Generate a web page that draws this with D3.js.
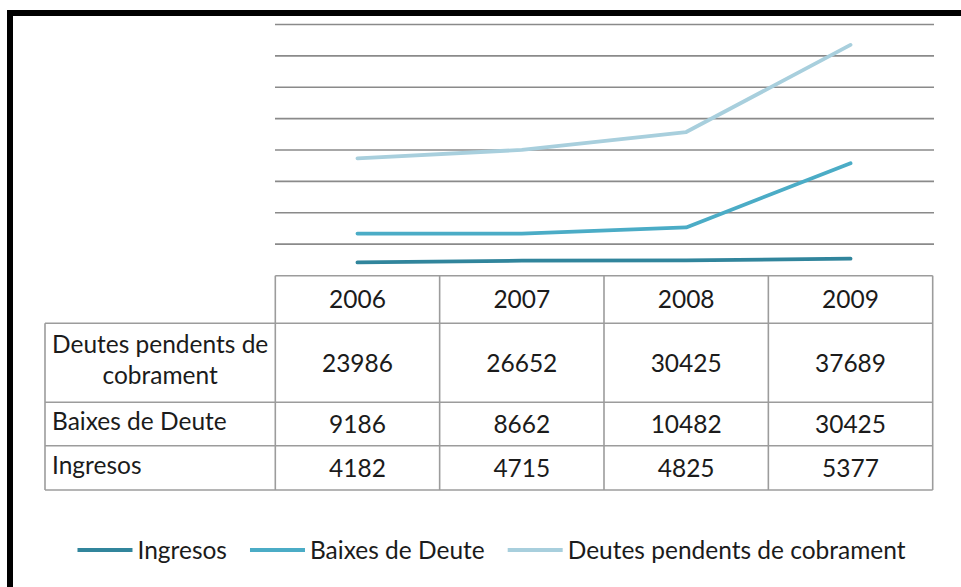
<!DOCTYPE html>
<html>
<head>
<meta charset="utf-8">
<script src="https://cdn.jsdelivr.net/npm/d3@7"></script>
<style>
  body { margin: 0; background: #fff; }
  text { font-family: Lato, "Open Sans", sans-serif; fill: #1b1b1b; }
</style>
</head>
<body>
<div id="chart"></div>
<script>
// data
var years = ["2006", "2007", "2008", "2009"];
var ingresos = [4182, 4715, 4825, 5377];
var baixes = [9186, 8662, 10482, 30425];
var deutes = [23986, 26652, 30425, 37689];
var seriesNames = ["Ingresos", "Baixes de Deute", "Deutes pendents de cobrament"];
var seriesColors = ["#31859c", "#4bacc6", "#a8cfdd"];
var yMax = 80000;

var w_svg = 961, h_svg = 587;

var svg = d3.select("#chart")
  .append("svg")
  .attr("width", w_svg)
  .attr("height", h_svg);

// pick a font size so the legend text is as wide as in the picture
var probe = svg.append("text").style("font-size", "20px").text(seriesNames[2]);
var fs = 20 * 338 / probe.node().getComputedTextLength();
probe.remove();
var capH = fs * 0.72;

var rows = years.map(function(y, i) {
  return { year: y, "Ingresos": ingresos[i], "Baixes de Deute": baixes[i], "Deutes pendents de cobrament": deutes[i] };
});

var x = d3.scaleBand().domain(years).range([275.3, 932.7]).padding(0);
var y = d3.scaleLinear().domain([0, yMax]).range([275.5, 24.5]);

// gridlines
svg.append("g")
  .selectAll("line")
  .data(y.ticks(8).filter(function(d) { return d > 0; }))
  .enter()
  .append("line")
  .attr("x1", 275)
  .attr("x2", 934)
  .attr("y1", function(d) { return y(d); })
  .attr("y2", function(d) { return y(d); })
  .style("stroke", "#8a8a8a")
  .style("stroke-width", "1.6px");

// stacked lines
var stack = d3.stack().keys(seriesNames);
var layers = stack(rows);

var line = d3.line()
  .x(function(d) { return x(d.data.year) + x.bandwidth() / 2; })
  .y(function(d) { return y(d[1]); });

svg.append("g")
  .selectAll("path")
  .data(layers)
  .enter()
  .append("path")
  .attr("d", line)
  .style("fill", "none")
  .style("stroke", function(d, i) { return seriesColors[i]; })
  .style("stroke-width", "3.8px")
  .style("stroke-linecap", "round")
  .style("stroke-linejoin", "round");

// data table
var tbl = svg.append("g");
var tableLeft = 45;
var rowTops = [275.7, 323.3, 402.3, 445.7, 490];
var tableRows = [
  { label: ["Deutes pendents de", "cobrament"], values: deutes },
  { label: ["Baixes de Deute"], values: baixes },
  { label: ["Ingresos"], values: ingresos }
];
var borderStyle = function(sel) {
  sel.style("stroke", "#9c9c9c").style("stroke-width", "1.6px");
};

// horizontal borders
tbl.append("line").attr("x1", x.range()[0]).attr("x2", x.range()[1])
  .attr("y1", rowTops[0]).attr("y2", rowTops[0]).call(borderStyle);
rowTops.slice(1).forEach(function(t) {
  tbl.append("line").attr("x1", tableLeft).attr("x2", x.range()[1])
    .attr("y1", t).attr("y2", t).call(borderStyle);
});
// vertical borders
years.forEach(function(yr) {
  tbl.append("line").attr("x1", x(yr)).attr("x2", x(yr))
    .attr("y1", rowTops[0]).attr("y2", rowTops[4]).call(borderStyle);
});
tbl.append("line").attr("x1", x.range()[1]).attr("x2", x.range()[1])
  .attr("y1", rowTops[0]).attr("y2", rowTops[4]).call(borderStyle);
tbl.append("line").attr("x1", tableLeft).attr("x2", tableLeft)
  .attr("y1", rowTops[1]).attr("y2", rowTops[4]).call(borderStyle);

// year header
tbl.selectAll("text.year")
  .data(years)
  .enter()
  .append("text")
  .attr("class", "year")
  .attr("x", function(d) { return x(d) + x.bandwidth() / 2; })
  .attr("y", (rowTops[0] + rowTops[1]) / 2 + capH / 2)
  .attr("text-anchor", "middle")
  .style("font-size", fs + "px")
  .text(function(d) { return d; });

tableRows.forEach(function(r, i) {
  var mid = (rowTops[i + 1] + rowTops[i + 2]) / 2;
  tbl.selectAll(null)
    .data(r.values)
    .enter()
    .append("text")
    .attr("x", function(d, j) { return x(years[j]) + x.bandwidth() / 2; })
    .attr("y", mid + capH / 2)
    .attr("text-anchor", "middle")
    .style("font-size", fs + "px")
    .text(function(d) { return d; });

  if (r.label.length > 1) {
    tbl.selectAll(null)
      .data(r.label)
      .enter()
      .append("text")
      .attr("x", (tableLeft + x.range()[0]) / 2)
      .attr("y", function(d, k) { return mid - 10 + k * 31.3; })
      .attr("text-anchor", "middle")
      .style("font-size", fs + "px")
      .text(function(d) { return d; });
  } else {
    tbl.append("text")
      .attr("x", tableLeft + 7)
      .attr("y", mid + capH / 2 - 3)
      .style("font-size", fs + "px")
      .text(r.label[0]);
  }
});

// legend
var legend = svg.append("g");
var lx = 0;
var items = seriesNames.map(function(name, i) {
  var g = legend.append("g");
  g.append("line")
    .attr("x1", 0).attr("x2", 55)
    .attr("y1", 0).attr("y2", 0)
    .style("stroke", seriesColors[i])
    .style("stroke-width", "3.8px");
  var t = g.append("text")
    .attr("x", 60)
    .attr("y", capH / 2)
    .style("font-size", fs + "px")
    .text(name);
  g.attr("transform", "translate(" + lx + ",0)");
  lx += 60 + t.node().getComputedTextLength() + 23;
  return g;
});
lx -= 23;
legend.attr("transform", "translate(" + (491.5 - lx / 2) + ",550)");

// frame
svg.append("rect").attr("x", 7).attr("y", 10).attr("width", w_svg - 7).attr("height", 6).style("fill", "#000");
svg.append("rect").attr("x", 7).attr("y", 10).attr("width", 6).attr("height", h_svg - 10).style("fill", "#000");
</script>
</body>
</html>
